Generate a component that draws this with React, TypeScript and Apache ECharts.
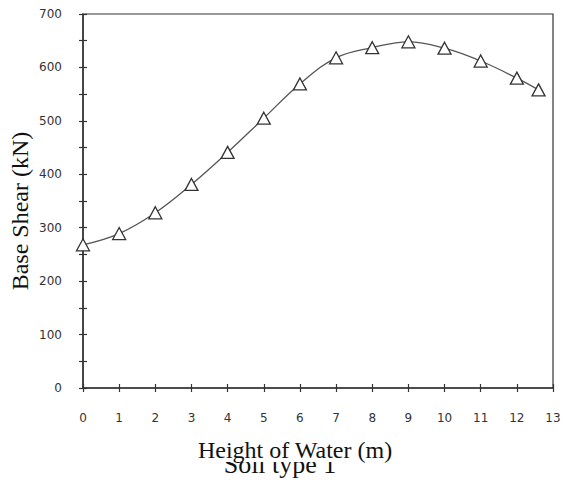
import React, { useEffect, useRef } from "react";
import * as echarts from "echarts";

const heights = [0, 1, 2, 3, 4, 5, 6, 7, 8, 9, 10, 11, 12, 12.6];
const baseShear = [268, 289, 328, 381, 441, 505, 569, 618, 637, 648, 636, 612, 580, 558];
const xTitle = "Height of Water (m)";
const yTitle = "Base Shear (kN)";
const caption = "Soil type 1";

export default function App() {
  const ref = useRef<HTMLDivElement>(null);
  useEffect(() => {
    const chart = echarts.init(ref.current!, null, { renderer: "svg" });
    const axisColor = "#333";
    const labelStyle = { fontFamily: "DejaVu Sans", fontSize: 12, color: "#333" };
    chart.setOption({
      animation: false,
      backgroundColor: "#fff",
      grid: {
        left: 83, top: 14, right: 19, bottom: 92,
        show: true, borderColor: axisColor, borderWidth: 1.2, backgroundColor: "transparent",
      },
      xAxis: [
        {
          type: "value", min: 0, max: 13, interval: 1, position: "bottom",
          axisLine: { show: true, onZero: false, lineStyle: { color: axisColor, width: 1.5 } },
          axisTick: { show: true, length: 4, lineStyle: { color: axisColor, width: 1.2 } },
          axisLabel: { ...labelStyle, margin: 24 },
          splitLine: { show: false },
        },
        {
          type: "value", min: 0, max: 13, interval: 1, position: "bottom",
          axisLine: { show: false, onZero: false },
          axisTick: { show: true, inside: true, length: 4, lineStyle: { color: axisColor, width: 1.2 } },
          axisLabel: { show: false },
          splitLine: { show: false },
        },
      ],
      yAxis: [
        {
          type: "value", min: 0, max: 700, interval: 50, position: "left",
          axisLine: { show: true, onZero: false, lineStyle: { color: axisColor, width: 1.5 } },
          axisTick: { show: true, length: 4, lineStyle: { color: axisColor, width: 1.2 } },
          axisLabel: {
            ...labelStyle, margin: 21,
            formatter: (v: number) => (v % 100 === 0 ? String(v) : ""),
          },
          splitLine: { show: false },
        },
        {
          type: "value", min: 0, max: 700, interval: 50, position: "left",
          axisLine: { show: false, onZero: false },
          axisTick: { show: true, inside: true, length: 4, lineStyle: { color: axisColor, width: 1.2 } },
          axisLabel: { show: false },
          splitLine: { show: false },
        },
      ],
      series: [
        {
          type: "line",
          data: heights.map((h, i) => [h, baseShear[i]]),
          smooth: 0.4,
          symbol: "triangle",
          symbolSize: [13, 12],
          showAllSymbol: true,
          lineStyle: { color: "#555", width: 1.3 },
          itemStyle: { color: "#fff", borderColor: "#333", borderWidth: 1.3 },
          z: 3,
        },
      ],
      graphic: [
        {
          type: "text", x: 280, y: 464, z: 1,
          style: { text: caption, font: "26px 'Liberation Serif'", fill: "#111", textAlign: "center", textVerticalAlign: "middle" },
        },
        {
          type: "rect", shape: { x: 150, y: 440, width: 300, height: 22 }, z: 2,
          style: { fill: "#fff" },
        },
        {
          type: "text", x: 295, y: 449.5, z: 3,
          style: { text: xTitle, font: "24px 'Liberation Serif'", fill: "#111", textAlign: "center", textVerticalAlign: "middle" },
        },
        {
          type: "text", x: 20, y: 211, rotation: Math.PI / 2, z: 3,
          style: { text: yTitle, font: "24px 'Liberation Serif'", fill: "#111", textAlign: "center", textVerticalAlign: "middle" },
        },
      ],
    });
    return () => chart.dispose();
  }, []);
  return <div ref={ref} style={{ width: 572, height: 480, position: "absolute", left: 0, top: 0 }} />;
}
